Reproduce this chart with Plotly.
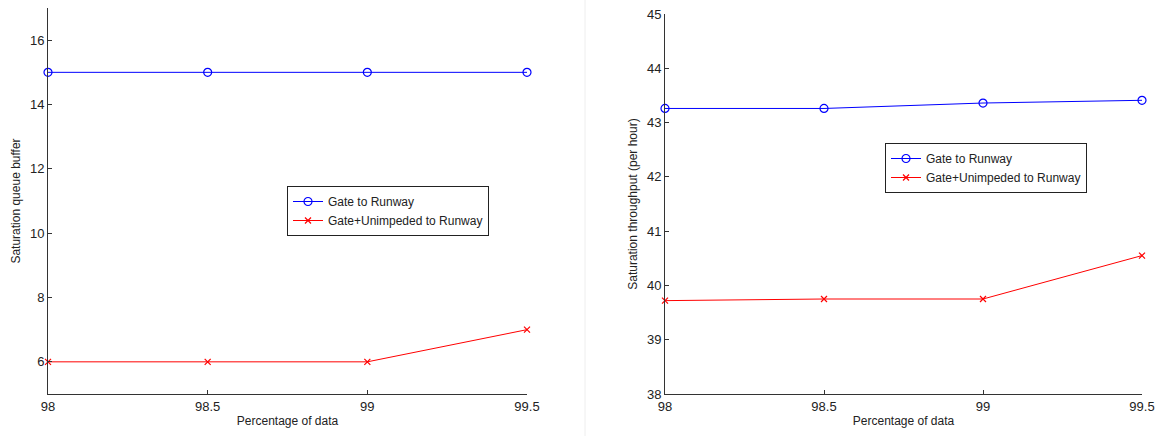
import plotly.graph_objects as go

x_vals = [98, 98.5, 99, 99.5]
queue_gate = [15, 15, 15, 15]
queue_gate_unimp = [6, 6, 6, 7]
thr_gate = [43.26, 43.26, 43.36, 43.41]
thr_gate_unimp = [39.72, 39.75, 39.75, 40.55]
x_ticks = [98, 98.5, 99, 99.5]
x_ticklabels = ["98", "98.5", "99", "99.5"]
left_yticks = [6, 8, 10, 12, 14, 16]
right_yticks = [38, 39, 40, 41, 42, 43, 44, 45]

W, H = 1159, 436
BLUE = "#0000ff"
RED = "#ff0000"
FONT = "Liberation Sans, Arial, sans-serif"

blue_marker = dict(symbol="circle-open", size=8, color=BLUE, line=dict(width=1.2, color=BLUE))
red_marker = dict(symbol="x-thin", size=6, color=RED, line=dict(width=1.2, color=RED))

fig = go.Figure()

fig.add_trace(go.Scatter(x=x_vals, y=queue_gate, mode="lines+markers", name="Gate to Runway",
                         line=dict(color=BLUE, width=1), marker=blue_marker, cliponaxis=False,
                         xaxis="x", yaxis="y", legend="legend"))
fig.add_trace(go.Scatter(x=x_vals, y=queue_gate_unimp, mode="lines+markers", name="Gate+Unimpeded to Runway",
                         line=dict(color=RED, width=1), marker=red_marker, cliponaxis=False,
                         xaxis="x", yaxis="y", legend="legend"))
fig.add_trace(go.Scatter(x=x_vals, y=thr_gate, mode="lines+markers", name="Gate to Runway",
                         line=dict(color=BLUE, width=1), marker=blue_marker, cliponaxis=False,
                         xaxis="x2", yaxis="y2", legend="legend2"))
fig.add_trace(go.Scatter(x=x_vals, y=thr_gate_unimp, mode="lines+markers", name="Gate+Unimpeded to Runway",
                         line=dict(color=RED, width=1), marker=red_marker, cliponaxis=False,
                         xaxis="x2", yaxis="y2", legend="legend2"))

axis_common = dict(showline=True, linecolor="#333333", linewidth=1, ticks="inside", ticklen=4,
                   tickcolor="#333333", showgrid=False, zeroline=False, automargin=False,
                   ticklabeloverflow="allow",
                   tickfont=dict(family=FONT, size=13, color="#222222"))

def px_x(p):
    return p / W

def px_y(p):
    return 1 - p / H

fig.update_layout(
    width=W, height=H,
    margin=dict(l=0, r=0, t=0, b=0, autoexpand=False),
    paper_bgcolor="white", plot_bgcolor="white",
    font=dict(family=FONT, size=12, color="#222222"),
    xaxis=dict(domain=[px_x(48), px_x(527)], range=[98, 99.5], tickvals=x_ticks, ticktext=x_ticklabels,
               anchor="y", title=dict(text="Percentage of data", standoff=4, font=dict(size=12)), **axis_common),
    yaxis=dict(domain=[px_y(394), px_y(8)], range=[5, 17], tickvals=left_yticks,
               anchor="x", title=dict(text="Saturation queue buffer", standoff=6, font=dict(size=12)), **axis_common),
    xaxis2=dict(domain=[px_x(665), px_x(1142)], range=[98, 99.5], tickvals=x_ticks, ticktext=x_ticklabels,
                anchor="y2", title=dict(text="Percentage of data", standoff=4, font=dict(size=12)), **axis_common),
    yaxis2=dict(domain=[px_y(394), px_y(14)], range=[38, 45], tickvals=right_yticks,
                anchor="x2", title=dict(text="Saturation throughput (per hour)", standoff=6, font=dict(size=12)), **axis_common),
    legend=dict(x=px_x(287), y=px_y(186), xanchor="left", yanchor="top", bgcolor="white",
                bordercolor="#222222", borderwidth=1, font=dict(size=12), tracegroupgap=0),
    legend2=dict(x=px_x(885), y=px_y(143), xanchor="left", yanchor="top", bgcolor="white",
                 bordercolor="#222222", borderwidth=1, font=dict(size=12), tracegroupgap=0),
    shapes=[dict(type="line", xref="paper", yref="paper", x0=px_x(585), x1=px_x(585), y0=0, y1=1,
                 line=dict(color="#eeeeee", width=1))],
    showlegend=True,
)

fig.write_html("out.html", config={"displayModeBar": False},
               post_script="document.body.style.margin='0';document.body.style.overflow='hidden';")
